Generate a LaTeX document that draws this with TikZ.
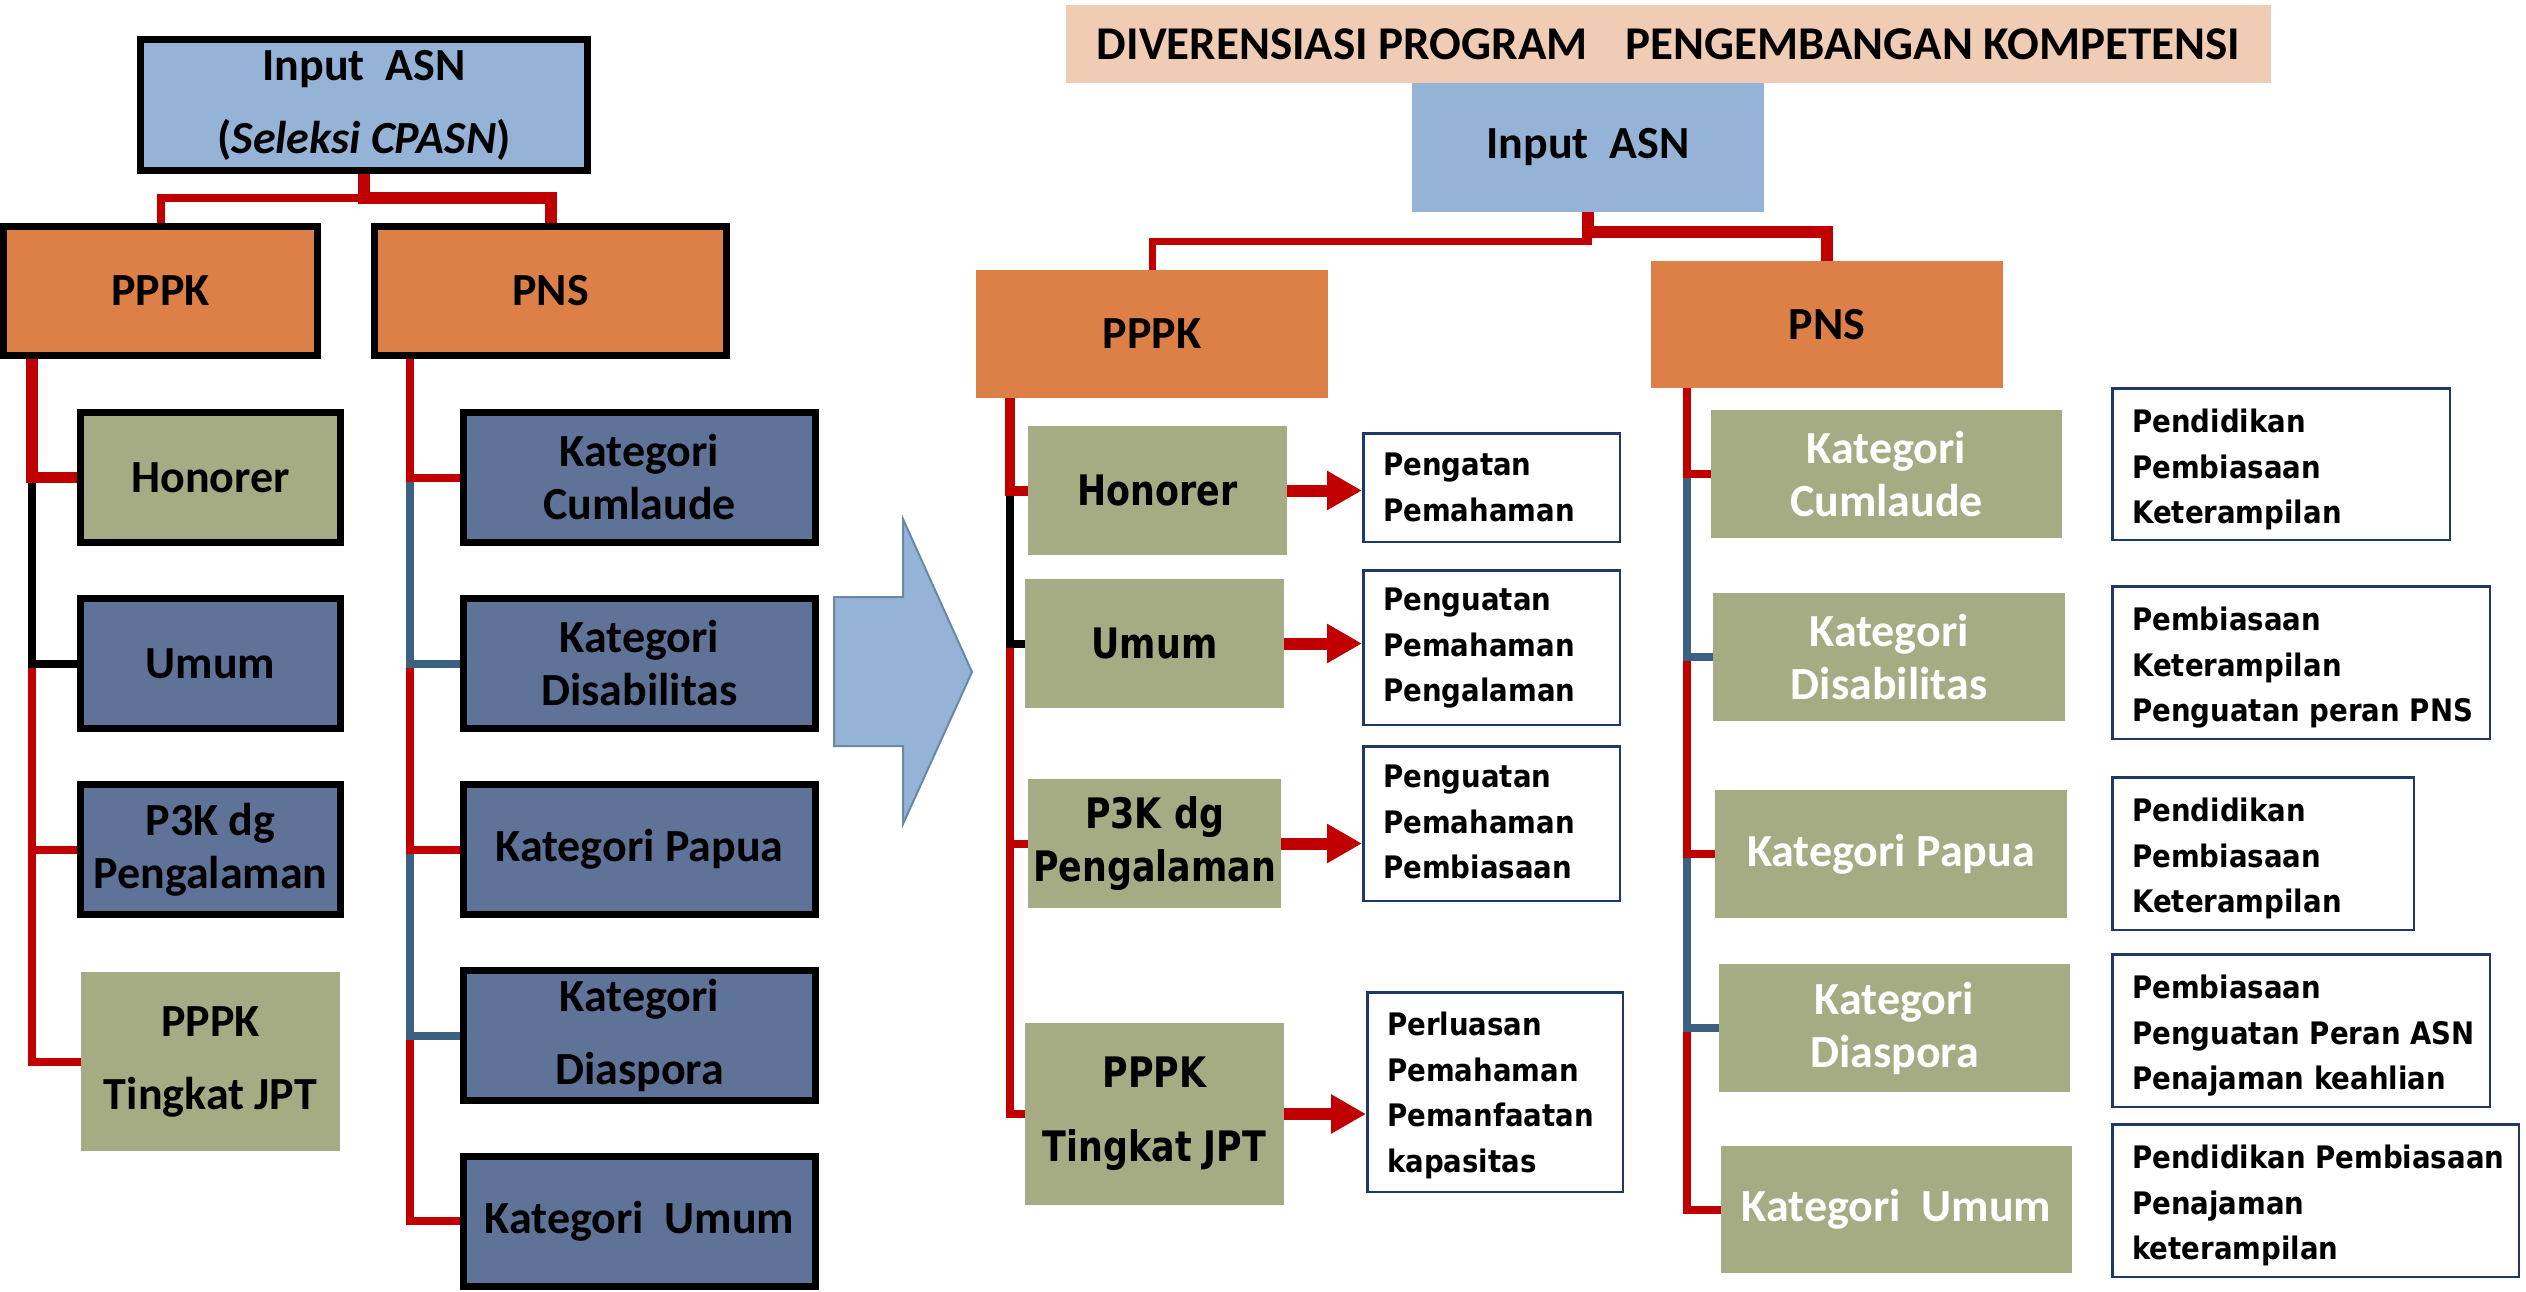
\documentclass[tikz,border=0pt]{standalone}
\usepackage{fontspec}
\newfontfamily\calfont{Carlito}
\newfontfamily\tahA{DejaVu Sans}[FakeStretch=0.83]
\newfontfamily\tahB{DejaVu Sans}[FakeStretch=0.89]
\usetikzlibrary{arrows.meta}
\definecolor{cLblue}{RGB}{149,179,215}
\definecolor{cOrange}{RGB}{221,128,71}
\definecolor{cOlive}{RGB}{165,171,130}
\definecolor{cSlate}{RGB}{95,115,153}
\definecolor{cRed}{RGB}{192,0,0}
\definecolor{cCon}{RGB}{60,96,130}
\definecolor{cNavy}{RGB}{32,56,100}
\definecolor{cPeach}{RGB}{241,204,181}
\definecolor{cArrowEdge}{RGB}{104,136,166}
\pgfdeclarelayer{background}
\pgfsetlayers{background,main}
\begin{document}
\begin{tikzpicture}[x=1pt,y=-1pt,
  base/.style={rectangle, inner sep=0pt, align=center},
  wh/.style n args={2}{minimum width=#1, minimum height=#2},
  lbox/.style={base, draw=black, line width=7pt},
  dbox/.style={base, draw=cNavy, line width=2.5pt},
  kbox/.style={base, fill=cOlive, text=white, calL},
  calL/.style={font=\calfont\bfseries\fontsize{46}{53}\selectfont},
  calW/.style={font=\calfont\bfseries\fontsize{46}{73}\selectfont},
  tahL/.style={font=\tahA\bfseries\fontsize{42}{53.5}\selectfont},
  tahW/.style={font=\tahA\bfseries\fontsize{42}{74}\selectfont},
  desct/.style={anchor=north west, inner sep=0pt, align=left, font=\tahB\bfseries\fontsize{31}{45.5}\selectfont},
  redarrow/.style={draw=cRed, line width=12pt, -{Triangle[length=35pt,width=37pt]}},
  conR/.style={draw=cRed, line width=8pt},
  conK/.style={draw=black, line width=8pt},
  conB/.style={draw=cCon, line width=8pt}
]
\useasboundingbox (0,0) rectangle (2526,1292);

% ---------------- left chart ----------------
\node[lbox, fill=cLblue, calW, wh={447}{131}] (inL) at (364,105) {Input\ \ ASN\\(\textit{Seleksi CPASN})};
\node[lbox, fill=cOrange, calL, wh={314}{129}] (pppkL) at (160.5,291) {PPPK};
\node[lbox, fill=cOrange, calL, wh={352}{129}] (pnsL) at (550.5,291) {PNS};
\node[lbox, fill=cOlive, calL, wh={260}{130}] (honL) at (210.5,477.5) {Honorer};
\node[lbox, fill=cSlate, calL, wh={260}{130}] (umL) at (210.5,663.5) {Umum};
\node[lbox, fill=cSlate, calL, wh={260}{130}] (p3kL) at (210.5,849.5) {P3K dg\\Pengalaman};
\node[base, fill=cOlive, calW, wh={259}{179}] (jptL) at (210.5,1061.5) {PPPK\\Tingkat JPT};
\node[lbox, fill=cSlate, calL, wh={352}{130}] (kcL) at (639.5,477.5) {Kategori\\Cumlaude};
\node[lbox, fill=cSlate, calL, wh={352}{130}] (kdL) at (639.5,663.5) {Kategori\\Disabilitas};
\node[lbox, fill=cSlate, calL, wh={352}{130}] (kpL) at (639.5,849.5) {Kategori Papua};
\node[lbox, fill=cSlate, calW, wh={352}{130}] (kdiL) at (639.5,1035.5) {Kategori\\Diaspora};
\node[lbox, fill=cSlate, calL, wh={352}{130}] (kuL) at (639.5,1221) {Kategori\ \ Umum};

\coordinate (lx) at (32,0);
\coordinate (px) at (409.5,0);

\begin{pgfonlayer}{background}
  \draw[draw=cRed, line width=8pt] (inL.south) -- ++(0,24) -| (pppkL.north);
  \draw[draw=cRed, line width=12pt] (inL.south) -- ++(0,24) -| (pnsL.north);
  % PPPK branch (lower segments first)
  \draw[conR] (p3kL.west -| lx) |- (jptL.west);
  \draw[conR] (umL.west -| lx) |- (p3kL.west);
  \draw[conK] (honL.west -| lx) |- (umL.west);
  \draw[draw=cRed, line width=11.5pt] (pppkL.south -| lx) |- (honL.west);
  % PNS branch
  \draw[conR] (kdiL.west -| px) |- (kuL.west);
  \draw[conB] (kpL.west -| px) |- (kdiL.west);
  \draw[conR] (kdL.west -| px) |- (kpL.west);
  \draw[conB] (kcL.west -| px) |- (kdL.west);
  \draw[conR] (pnsL.south -| px) |- (kcL.west);
\end{pgfonlayer}

% ---------------- big arrow ----------------
\draw[fill=cLblue, draw=cArrowEdge, line width=2pt]
  (834,597) -- (903,597) -- (903,519) -- (972,672) -- (903,824) -- (903,746) -- (834,746) -- cycle;

% ---------------- right chart ----------------
\node[base, fill=cPeach, font=\calfont\bfseries\fontsize{47}{53}\selectfont, wh={1205}{78}] (title) at (1668.5,44)
  {DIVERENSIASI PROGRAM\hspace{38pt}PENGEMBANGAN KOMPETENSI};
\node[base, fill=cLblue, calL, wh={352}{129}] (inR) at (1588,147.5) {Input\ \ ASN};
\node[base, fill=cOrange, calL, wh={352}{128}] (pppkR) at (1152,334) {PPPK};
\node[base, fill=cOrange, calL, wh={352}{127}] (pnsR) at (1827,324.5) {PNS};

\node[base, fill=cOlive, tahL, wh={259}{129}] (honR) at (1157.5,490.5) {Honorer};
\node[base, fill=cOlive, tahL, wh={259}{129}] (umR) at (1154.5,643.5) {Umum};
\node[base, fill=cOlive, tahL, wh={253}{129}] (p3kR) at (1154.5,843.5) {P3K dg\\Pengalaman};
\node[base, fill=cOlive, tahW, wh={259}{182}] (jptR) at (1154.5,1114) {PPPK\\Tingkat JPT};

\node[dbox, wh={256.5}{108.5}] (d1) at (1491.5,487.5) {};
\node[dbox, wh={256.5}{154.5}] (d2) at (1491.5,647.5) {};
\node[dbox, wh={256.5}{154.5}] (d3) at (1491.5,823.5) {};
\node[dbox, wh={255.5}{199.5}] (d4) at (1495,1092) {};
\node[desct] (d1t) at ([shift={(21,21)}]d1.north west) {Pengatan\\Pemahaman};
\node[desct] (d2t) at ([shift={(21,19)}]d2.north west) {Penguatan\\Pemahaman\\Pengalaman};
\node[desct] (d3t) at ([shift={(21,20)}]d3.north west) {Penguatan\\Pemahaman\\Pembiasaan};
\node[desct] (d4t) at ([shift={(21,21)}]d4.north west) {Perluasan\\Pemahaman\\Pemanfaatan\\kapasitas};

\node[kbox, wh={351}{128}] (kcR) at (1886.5,474) {Kategori\\Cumlaude};
\node[kbox, wh={352}{128}] (kdR) at (1889,657) {Kategori\\Disabilitas};
\node[kbox, wh={352}{128}] (kpR) at (1891,854) {Kategori Papua};
\node[kbox, wh={351}{128}] (kdiR) at (1894.5,1028) {Kategori\\Diaspora};
\node[kbox, wh={351}{127}] (kuR) at (1896.5,1209.5) {Kategori\ \ Umum};

\node[dbox, wh={337.5}{151.5}] (e1) at (2281,464) {};
\node[dbox, wh={377.5}{152.5}] (e2) at (2301,662.5) {};
\node[dbox, wh={301.5}{152.5}] (e3) at (2263,853.5) {};
\node[dbox, wh={377.5}{152.5}] (e4) at (2301,1030.5) {};
\node[dbox, wh={406.5}{152.5}] (e5) at (2315.5,1200.5) {};
\node[desct] (e1t) at ([shift={(21,22)}]e1.north west) {Pendidikan\\Pembiasaan\\Keterampilan};
\node[desct] (e2t) at ([shift={(21,22)}]e2.north west) {Pembiasaan\\Keterampilan\\Penguatan peran PNS};
\node[desct] (e3t) at ([shift={(21,22)}]e3.north west) {Pendidikan\\Pembiasaan\\Keterampilan};
\node[desct] (e4t) at ([shift={(21,22)}]e4.north west) {Pembiasaan\\Penguatan Peran ASN\\Penajaman keahlian};
\node[desct] (e5t) at ([shift={(21,22)}]e5.north west) {Pendidikan Pembiasaan\\Penajaman\\keterampilan};

\coordinate (rx) at (1010,0);
\coordinate (qx) at (1687,0);

\begin{pgfonlayer}{background}
  \draw[draw=cRed, line width=7pt] (inR.south) -- ++(0,29.5) -| (pppkR.north);
  \draw[draw=cRed, line width=12pt] (inR.south) -- ++(0,19.5) -| (pnsR.north);
  % PPPK branch
  \draw[conR] (p3kR.west -| rx) |- (jptR.west);
  \draw[conR] (umR.west -| rx) |- (p3kR.west);
  \draw[conK] (honR.west -| rx) |- (umR.west);
  \draw[draw=cRed, line width=10pt] (pppkR.south -| rx) |- (honR.west);
  % PNS branch
  \draw[conR] (kdiR.west -| qx) |- (kuR.west);
  \draw[conB] (kpR.west -| qx) |- (kdiR.west);
  \draw[conR] (kdR.west -| qx) |- (kpR.west);
  \draw[conB] (kcR.west -| qx) |- (kdR.west);
  \draw[conR] (pnsR.south -| qx) |- (kcR.west);
\end{pgfonlayer}

% arrows to descriptions
\draw[redarrow] (honR.east) -- (honR.east -| d1.west);
\draw[redarrow] (umR.east) -- (umR.east -| d2.west);
\draw[redarrow] (p3kR.east) -- (p3kR.east -| d3.west);
\draw[redarrow] (jptR.east) -- (jptR.east -| d4.west);
\end{tikzpicture}
\end{document}
